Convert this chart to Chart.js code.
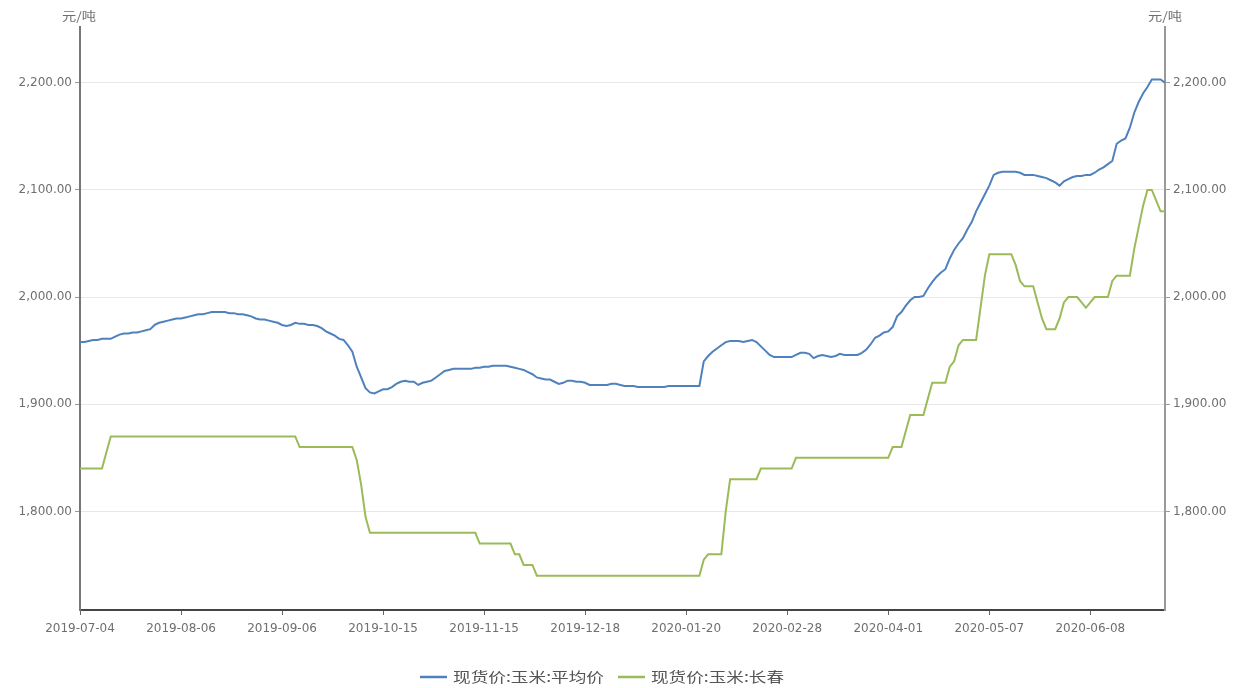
<!DOCTYPE html>
<html>
<head>
<meta charset="utf-8">
<script src="https://cdn.jsdelivr.net/npm/chart.js@4.4.1/dist/chart.umd.min.js"></script>
<style>
  html, body { margin: 0; padding: 0; background: #fff; }
  #wrap { width: 1247px; height: 688px; }
</style>
</head>
<body>
<div id="wrap"><canvas id="c" width="1247" height="688"></canvas></div>
<script>
// Trading-day series, 2019-07-04 onwards (one value per working day)
const tickDates = ['2019-07-04','2019-08-06','2019-09-06','2019-10-15','2019-11-15','2019-12-18',
                   '2020-01-20','2020-02-28','2020-04-01','2020-05-07','2020-06-08'];
const tickStep = 23; // trading days between labelled dates

const seriesNames = ['现货价:玉米:平均价', '现货价:玉米:长春'];
const unitLabel = '元/吨';
const yTicks = [1800, 1900, 2000, 2100, 2200];

// 现货价:玉米:平均价
const avgPrice = [
  1958,1958,1959,1960,1960,1961,1961,1961,
  1963,1965,1966,1966,1967,1967,1968,1969,
  1970,1974,1976,1977,1978,1979,1980,1980,
  1981,1982,1983,1984,1984,1985,1986,1986,
  1986,1986,1985,1985,1984,1984,1983,1982,
  1980,1979,1979,1978,1977,1976,1974,1973,
  1974,1976,1975,1975,1974,1974,1973,1971,
  1968,1966,1964,1961,1960,1955,1949,1935,
  1925,1915,1911,1910,1912,1914,1914,1916,
  1919,1921,1922,1921,1921,1918,1920,1921,
  1922,1925,1928,1931,1932,1933,1933,1933,
  1933,1933,1934,1934,1935,1935,1936,1936,
  1936,1936,1935,1934,1933,1932,1930,1928,
  1925,1924,1923,1923,1921,1919,1920,1922,
  1922,1921,1921,1920,1918,1918,1918,1918,
  1918,1919,1919,1918,1917,1917,1917,1916,
  1916,1916,1916,1916,1916,1916,1917,1917,
  1917,1917,1917,1917,1917,1917,1940,1945,
  1949,1952,1955,1958,1959,1959,1959,1958,
  1959,1960,1958,1954,1950,1946,1944,1944,
  1944,1944,1944,1946,1948,1948,1947,1943,
  1945,1946,1945,1944,1945,1947,1946,1946,
  1946,1946,1948,1951,1956,1962,1964,1967,
  1968,1972,1982,1986,1992,1997,2000,2000,
  2001,2008,2014,2019,2023,2026,2036,2044,
  2050,2055,2063,2070,2080,2088,2096,2104,
  2114,2116,2117,2117,2117,2117,2116,2114,
  2114,2114,2113,2112,2111,2109,2107,2104,
  2108,2110,2112,2113,2113,2114,2114,2116,
  2119,2121,2124,2127,2143,2146,2148,2158,
  2172,2182,2190,2196,2203,2203,2203,2200
];

// 现货价:玉米:长春
const changchunPrice = [
  1840,1840,1840,1840,1840,1840,1855,1870,1870,1870,
  1870,1870,1870,1870,1870,1870,1870,1870,1870,1870,
  1870,1870,1870,1870,1870,1870,1870,1870,1870,1870,
  1870,1870,1870,1870,1870,1870,1870,1870,1870,1870,
  1870,1870,1870,1870,1870,1870,1870,1870,1870,1870,
  1860,1860,1860,1860,1860,1860,1860,1860,1860,1860,
  1860,1860,1860,1848,1825,1795,1780,1780,1780,1780,
  1780,1780,1780,1780,1780,1780,1780,1780,1780,1780,
  1780,1780,1780,1780,1780,1780,1780,1780,1780,1780,
  1780,1770,1770,1770,1770,1770,1770,1770,1770,1760,
  1760,1750,1750,1750,1740,1740,1740,1740,1740,1740,
  1740,1740,1740,1740,1740,1740,1740,1740,1740,1740,
  1740,1740,1740,1740,1740,1740,1740,1740,1740,1740,
  1740,1740,1740,1740,1740,1740,1740,1740,1740,1740,
  1740,1740,1755,1760,1760,1760,1760,1800,1830,1830,
  1830,1830,1830,1830,1830,1840,1840,1840,1840,1840,
  1840,1840,1840,1850,1850,1850,1850,1850,1850,1850,
  1850,1850,1850,1850,1850,1850,1850,1850,1850,1850,
  1850,1850,1850,1850,1850,1860,1860,1860,1875,1890,
  1890,1890,1890,1905,1920,1920,1920,1920,1935,1940,
  1955,1960,1960,1960,1960,1990,2020,2040,2040,2040,
  2040,2040,2040,2030,2015,2010,2010,2010,1995,1980,
  1970,1970,1970,1980,1995,2000,2000,2000,1995,1990,
  1995,2000,2000,2000,2000,2015,2020,2020,2020,2020,
  2045,2065,2085,2100,2100,2090,2080,2080
];

const colors = ['#4f81bd', '#9bbb59'];
const numFont = { family: 'DejaVu Sans', size: 12 };
const cjkFont = '"Noto Sans CJK SC", "DejaVu Sans", sans-serif';
const textColor = '#6f6f6f';

const yMin = 1708, yMax = 2252;
const fmt = v => v.toLocaleString('en-US', { minimumFractionDigits: 2, maximumFractionDigits: 2 });

// Draw a text run stretched horizontally to a given width
function wideText(ctx, text, x, y, width) {
  const w = ctx.measureText(text).width;
  ctx.save();
  ctx.translate(x, y);
  ctx.scale(width / w, 1);
  ctx.fillText(text, 0, 0);
  ctx.restore();
}

// Units above both value axes and the legend row beneath the chart
const decorations = {
  id: 'decorations',
  afterDraw(chart) {
    const ctx = chart.ctx;
    ctx.save();
    ctx.fillStyle = textColor;
    ctx.font = '12px ' + cjkFont;
    ctx.textBaseline = 'middle';
    ctx.textAlign = 'left';
    wideText(ctx, unitLabel, 62, 16, 34);
    wideText(ctx, unitLabel, 1148, 16, 34);

    // legend
    ctx.font = '14px ' + cjkFont;
    const y = 677;
    const items = [
      { x: 420, textWidth: 151 },
      { x: 618, textWidth: 133 }
    ];
    seriesNames.forEach((name, k) => {
      const x = items[k].x;
      ctx.strokeStyle = colors[k];
      ctx.lineWidth = 2.5;
      ctx.beginPath();
      ctx.moveTo(x, y);
      ctx.lineTo(x + 27, y);
      ctx.stroke();
      ctx.fillStyle = '#555';
      wideText(ctx, name, x + 33, y, items[k].textWidth);
    });
    ctx.restore();
  }
};

const toPoints = arr => arr.map((v, i) => ({ x: i, y: v }));

new Chart(document.getElementById('c'), {
  type: 'line',
  data: {
    datasets: [
      { label: seriesNames[0], data: toPoints(avgPrice), borderColor: colors[0], yAxisID: 'y' },
      { label: seriesNames[1], data: toPoints(changchunPrice), borderColor: colors[1], yAxisID: 'y' }
    ]
  },
  options: {
    responsive: false,
    animation: false,
    devicePixelRatio: 1,
    layout: { padding: { top: 27, bottom: 48, left: 0, right: 0 } },
    elements: {
      point: { radius: 0 },
      line: { borderWidth: 2, tension: 0 }
    },
    plugins: { legend: { display: false }, tooltip: { enabled: false } },
    scales: {
      x: {
        type: 'linear',
        min: 0,
        max: avgPrice.length - 1,
        afterBuildTicks: s => { s.ticks = tickDates.map((d, k) => ({ value: k * tickStep })); },
        afterFit: s => { s.height = 30; },
        ticks: {
          autoSkip: false, maxRotation: 0, padding: 7,
          color: textColor, font: numFont,
          callback: v => tickDates[Math.round(v / tickStep)]
        },
        grid: { drawOnChartArea: false, drawTicks: true, tickLength: 5, color: '#666' },
        border: { color: '#444', width: 2 }
      },
      y: {
        position: 'left',
        min: yMin, max: yMax,
        afterBuildTicks: s => { s.ticks = yTicks.map(v => ({ value: v })); },
        afterFit: s => { s.width = 80; },
        ticks: { color: textColor, font: numFont, padding: 3, callback: v => fmt(v) },
        grid: { color: '#e8e8e8', tickColor: '#999', tickLength: 5 },
        border: { color: '#777', width: 2 }
      },
      y2: {
        position: 'right',
        min: yMin, max: yMax,
        afterBuildTicks: s => { s.ticks = yTicks.map(v => ({ value: v })); },
        afterFit: s => { s.width = 82; },
        ticks: { color: textColor, font: numFont, padding: 3, callback: v => fmt(v) },
        grid: { drawOnChartArea: false, tickColor: '#999', tickLength: 5 },
        border: { color: '#999', width: 2 }
      }
    }
  },
  plugins: [decorations]
});
</script>
</body>
</html>
